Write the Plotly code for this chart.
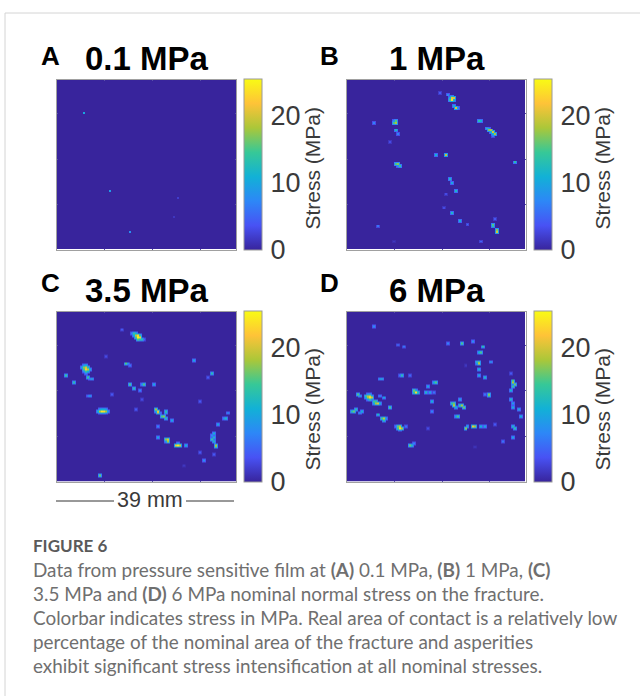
import plotly.graph_objects as go

W, H = 640, 696
GRID = 90
FINE = 2
ZMAX = 25.4
HALO = [0, 0.45, 0.45, 0.45]

# Contact spots: (column, row, stress in MPa) on a 90x90 film grid, row 0 at top.
spots_a = [(13,17,10),(26,58,9),(36,80,8),(60,62,2),(58,72,1.5)]

spots_b = [(52,9,21),(53,9,20),(52,10,23),(51,10,14),(52,8,13),(51,9,10),(53,10,12),(50,7,8),(46,6,4),(54,14,20),(53,13,11),(55,14,8),
           (24,21,15),(24,22,18),(23,22,15),(23,21,8),(24,26,12),(25,28,7),(13,22,7),(21,32,3),(66,21,13),(67,21,11),
           (70,25,13),(71,26,17),(72,26,18),(73,27,20),(74,28,18),(73,28,11),(71,25,8),(72,27,10),(73,29,6),(49,39,19),(44,39,11),
           (84,43,13),(24,44,15),(25,44,17),(26,45,14),(25,45,8),(51,52,12),(52,54,10),(54,58,12),(49,60,3),(52,70,12),
           (56,74,11),(60,76,6),(73,76,16),(73,77,14),(75,79,17),(75,80,20),(74,73,4),(67,85,5),(15,77,6),
           (23,85,1.5),(48,67,3)]

spots_c = [(38,11,14),(39,12,19),(40,12,23),(40,13,25),(41,13,22),(42,14,13),(37,11,7),(38,12,11),(39,13,15),(39,11,11),(41,12,13),
           (41,14,13),(40,14,15),(43,14,5),(32,9,4),(34,27,15),(35,27,8),(36,28,6),
           (13,29,17),(14,29,20),(14,30,22),(15,30,19),(14,31,14),(12,29,10),(13,30,15),(13,28,9),(14,28,11),(15,29,13),(16,30,11),
           (15,31,11),(14,32,7),(13,31,7),(15,34,14),(17,35,12),(16,35,8),(4,33,14),(8,37,13),
           (16,44,11),(15,44,7),(21,52,19),(22,52,24),(23,52,23),(24,52,18),(20,52,11),(21,51,9),(22,51,11),(23,51,11),(24,51,9),(25,52,9),
           (21,53,9),(22,53,11),(23,53,11),(24,53,7),(36,38,15),(38,40,13),(43,38,15),(42,38,8),(41,41,7),
           (48,38,10),(27,43,4),(49,51,18),(50,52,21),(50,53,19),(49,52,10),(51,53,9),(52,55,15),(53,55,17),(54,56,13),(54,52,13),
           (54,53,12),(57,57,10),(50,60,7),(50,66,10),(54,67,17),(55,67,20),(55,68,18),(54,68,9),(59,70,21),(60,70,24),
           (61,70,20),(60,69,8),(64,70,11),(71,47,4),(68,25,10),(77,32,13),(75,34,4),(85,53,9),(84,56,12),(83,56,8),
           (80,59,10),(78,64,11),(77,65,8),(78,66,12),(77,67,14),(78,68,12),(79,70,18),(79,71,16),(71,74,4),
           (73,78,8),(78,75,4),(21,86,16),(63,81,1.5),(24,23,3),(42,46,3),(39,51,4)]

spots_d = [(13,7,8),(25,17,6),(28,18,6),(50,16,7),(57,16,15),(63,15,8),(68,18,13),(67,21,15),(66,21,11),
           (65,26,14),(66,26,16),(66,27,19),(65,27,9),(72,26,10),(66,30,11),(66,33,10),(69,34,12),(59,28,1.5),(27,33,13),(26,33,6),
           (31,33,5),(16,35,11),(17,35,12),(44,37,15),(43,37,11),(40,39,10),(39,42,12),(41,42,10),(43,42,6),
           (33,41,16),(34,42,23),(33,42,14),(35,42,13),(34,41,10),(5,43,15),(6,44,12),(9,44,16),(10,44,19),(11,44,21),
           (12,45,19),(11,45,23),(10,45,18),(11,46,14),(9,45,11),(10,43,9),(11,43,9),(12,44,11),(10,46,8),(16,44,9),(18,45,10),(13,47,14),(14,48,18),(15,48,20),
           (14,47,14),(13,48,10),(16,48,11),(21,50,15),(2,52,13),(3,52,16),(4,51,13),(6,53,10),(7,52,11),(15,54,12),(17,56,15),
           (18,56,19),(18,57,13),(19,56,9),(25,60,16),(26,60,19),(26,61,23),(27,61,18),(25,61,14),(26,62,10),(24,60,7),(29,60,6),(31,70,16),
           (32,70,12),(33,69,7),(42,47,11),(42,52,7),(40,61,3),(52,48,14),(53,49,19),(53,48,16),(54,50,11),
           (56,46,10),(56,49,14),(57,49,18),(58,50,16),(55,55,15),(54,55,10),(59,61,17),(60,60,12),(63,60,21),
           (64,60,18),(67,60,11),(69,60,10),(71,43,17),(71,44,15),(69,43,6),(83,36,15),(83,37,18),(84,38,16),
           (83,39,14),(82,41,11),(82,32,4),(82,46,12),(83,48,9),(83,50,11),(86,51,10),(87,55,11),(83,60,12),
           (84,61,13),(83,66,10),(78,68,6),(64,71,1.5),(74,59,4)]

panel_letters = ["A", "B", "C", "D"]
panel_titles = ["0.1 MPa", "1 MPa", "3.5 MPa", "6 MPa"]
colorbar_ticks = [0, 10, 20]
colorbar_title = "Stress (MPa)"
scale_label = "39 mm"
figure_label = "FIGURE 6"
caption_lines = [
    "Data from pressure sensitive film at <b>(A)</b> 0.1 MPa, <b>(B)</b> 1 MPa, <b>(C)</b>",
    "3.5 MPa and <b>(D)</b> 6 MPa nominal normal stress on the fracture.",
    "Colorbar indicates stress in MPa. Real area of contact is a relatively low",
    "percentage of the nominal area of the fracture and asperities",
    "exhibit significant stress intensification at all nominal stresses.",
]

parula = [[0, "#38249c"], [1/7, "#4852f4"], [2/7, "#2d87f7"], [3/7, "#12b1d6"],
          [4/7, "#37c897"], [5/7, "#abc739"], [6/7, "#fec338"], [1, "#f9fb14"]]

# pixel boxes: left, right, top, bottom
boxes = [(57, 236, 80, 249.5), (347, 525.5, 80, 249.5), (57, 236, 311.5, 481.5), (347, 525.5, 311.5, 481.5)]
bars = [(244, 79, 250), (533.5, 79, 250), (244, 311, 482), (533.5, 311, 482)]
stress_y = [168, 168, 409, 409]
stress_x = [311.5, 601.5, 311.5, 601.5]
letter_pos = [(50.5, 56), (329, 56), (50, 283), (329, 283)]
title_pos = [(146.5, 59), (436.5, 59), (146.5, 290), (436.5, 290)]


def px(x):
    return x / W


def py(y):
    return 1 - y / H


def grid_from(spots, halo):
    size = GRID * FINE
    z = [[0.0] * size for _ in range(size)]
    for col, row, val in spots:
        for dr in range(-1, FINE + 1):
            for dc in range(-1, FINE + 1):
                inner = 0 <= dr < FINE and 0 <= dc < FINE
                v = val if inner else val * halo
                r, c = row * FINE + dr, col * FINE + dc
                if 0 <= r < size and 0 <= c < size and v > z[r][c]:
                    z[r][c] = v
    return z


centres = [(c + 0.5) / FINE for c in range(GRID * FINE)]

fig = go.Figure()
all_spots = [spots_a, spots_b, spots_c, spots_d]
annotations = []
layout_axes = {}
for i, spots in enumerate(all_spots):
    n = "" if i == 0 else str(i + 1)
    left, right, top, bottom = boxes[i]
    bx, bt, bb = bars[i]
    fig.add_trace(go.Heatmap(
        z=grid_from(spots, HALO[i]),
        x=centres,
        y=centres,
        xaxis="x" + n, yaxis="y" + n,
        zmin=0, zmax=ZMAX, zsmooth="best",
        colorscale=parula, hoverinfo="skip",
        colorbar=dict(
            x=px(bx), xanchor="left", xref="paper",
            y=py((bt + bb) / 2), yanchor="middle", yref="paper",
            len=(bb - bt) / H, lenmode="fraction",
            thickness=18, thicknessmode="pixels",
            xpad=0, ypad=0,
            tickvals=colorbar_ticks, ticks="outside", ticklen=3, tickcolor="rgba(255,255,255,0)",
            tickfont=dict(family="Liberation Sans", size=27, color="#3a3a3a"),
            outlinecolor="#9a9a9a", outlinewidth=1, borderwidth=0,
        ),
    ))
    common = dict(showgrid=False, zeroline=False, showticklabels=False, ticks="inside", ticklen=1,
                  tickcolor="#5a50a8", tickwidth=1, showline=True, linecolor="#a0a0a0", linewidth=1,
                  mirror="allticks")
    layout_axes["xaxis" + n] = dict(domain=[px(left), px(right)], range=[0, GRID],
                                    tickvals=[24, 48, 72], anchor="y" + n, **common)
    layout_axes["yaxis" + n] = dict(domain=[py(bottom), py(top)], range=[GRID, 0],
                                    tickvals=[18, 42, 66], anchor="x" + n, **common)
    annotations.append(dict(text="<b>%s</b>" % panel_letters[i], x=px(letter_pos[i][0]), y=py(letter_pos[i][1]),
                            font=dict(family="Liberation Sans", size=26, color="#000000")))
    annotations.append(dict(text="<b>%s</b>" % panel_titles[i], x=px(title_pos[i][0]), y=py(title_pos[i][1]),
                            font=dict(family="Liberation Sans", size=33, color="#000000")))
    annotations.append(dict(text=colorbar_title, x=px(stress_x[i]), y=py(stress_y[i]), textangle=-90,
                            font=dict(family="Liberation Sans", size=21, color="#3a3a3a")))

annotations.append(dict(text=scale_label, x=px(149.5), y=py(500),
                        font=dict(family="Liberation Sans", size=21.5, color="#3a3a3a")))
annotations.append(dict(text="<b>%s</b>" % figure_label, x=px(31), y=py(545), xanchor="left",
                        font=dict(family="Lato", size=17, color="#5a5a5a")))
for k, line in enumerate(caption_lines):
    annotations.append(dict(text=line, x=px(31), y=py(569 + 24 * k), xanchor="left",
                            font=dict(family="Lato", size=18.9, color="#6f6f6f")))
for a in annotations:
    a.update(xref="paper", yref="paper", showarrow=False, yanchor="middle")
    a.setdefault("xanchor", "center")

line_style = dict(type="line", xref="paper", yref="paper")
shapes = [
    dict(x0=px(56), x1=px(114), y0=py(501), y1=py(501), line=dict(color="#333333", width=1), **line_style),
    dict(x0=px(186), x1=px(234), y0=py(501), y1=py(501), line=dict(color="#333333", width=1), **line_style),
    dict(x0=px(5), x1=1, y0=py(13), y1=py(13), line=dict(color="#d4d4d4", width=1), **line_style),
    dict(x0=px(5), x1=px(5), y0=py(13), y1=0, line=dict(color="#d4d4d4", width=1), **line_style),
]

fig.update_layout(
    width=W, height=H, autosize=False,
    margin=dict(l=0, r=0, t=0, b=0, autoexpand=False),
    paper_bgcolor="white", plot_bgcolor="white", showlegend=False,
    annotations=annotations, shapes=shapes, **layout_axes,
)
fig.write_html("out.html", config=dict(displayModeBar=False),
               post_script="document.body.style.margin='0';document.documentElement.style.overflow='hidden';")
